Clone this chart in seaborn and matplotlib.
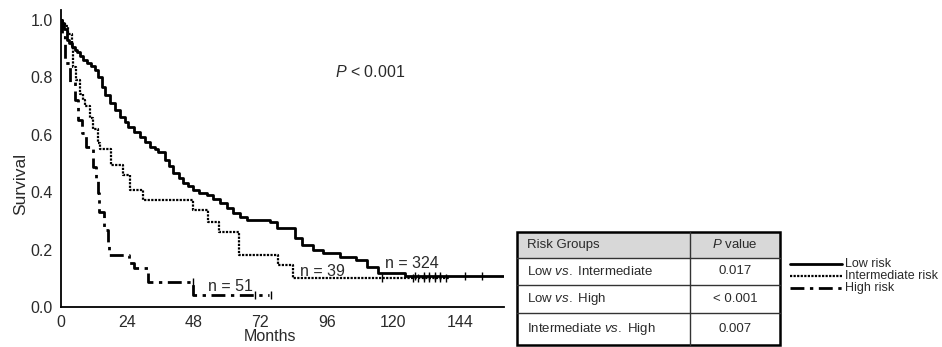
import matplotlib
matplotlib.use("Agg")
import matplotlib.pyplot as plt
from matplotlib.patches import Rectangle
from matplotlib.lines import Line2D
import seaborn as sns
import pandas as pd

sns.set_theme(style="white")
plt.rcParams['font.family'] = ['Liberation Sans', 'DejaVu Sans']
plt.rcParams['mathtext.fontset'] = 'custom'
plt.rcParams['mathtext.it'] = 'Liberation Sans:italic'
plt.rcParams['mathtext.rm'] = 'Liberation Sans'

# ---- data ----
low_months = [0, 0.5, 1, 2, 3, 4, 5, 5.7, 7, 8, 9.5, 11, 12.3, 13.5, 14.7, 16, 17.7, 19.5, 21.3, 23, 24.3, 26.5, 28.5, 30.3, 32.1, 34, 35.1, 37.5, 39, 40.5, 42.5, 44.2, 46, 47.8, 50, 52.6, 55, 57.4, 60, 62.2, 64.5, 67, 75.5, 77.9, 83.3, 84.5, 86.9, 91.1, 94.7, 100.7, 106.7, 110.4, 114.5, 124.2, 160]
low_surv = [1.0, 0.988, 0.97, 0.93, 0.92, 0.905, 0.895, 0.89, 0.875, 0.86, 0.85, 0.84, 0.826, 0.80, 0.768, 0.74, 0.71, 0.685, 0.663, 0.645, 0.628, 0.61, 0.593, 0.575, 0.559, 0.55, 0.541, 0.512, 0.49, 0.466, 0.45, 0.431, 0.42, 0.408, 0.398, 0.39, 0.376, 0.361, 0.345, 0.326, 0.313, 0.303, 0.297, 0.274, 0.274, 0.239, 0.216, 0.199, 0.187, 0.175, 0.164, 0.14, 0.12, 0.108, 0.108]

int_months = [0, 0.5, 1.4, 2.5, 3.9, 4.4, 5.5, 6.9, 8, 8.7, 10.5, 11.7, 13.5, 14, 18.2, 22.4, 24.8, 29.6, 47.6, 53, 57.2, 64.4, 78.4, 83.9, 140]
int_surv = [1.0, 0.99, 0.98, 0.95, 0.91, 0.837, 0.79, 0.744, 0.72, 0.70, 0.66, 0.62, 0.57, 0.55, 0.495, 0.46, 0.408, 0.373, 0.338, 0.297, 0.262, 0.181, 0.146, 0.10, 0.10]

high_months = [0, 0.2, 1.6, 3.3, 5.0, 6.3, 7.5, 9.1, 11.5, 12.7, 13.3, 13.9, 15.7, 16.9, 17.5, 23.5, 24.7, 26.5, 31.3, 47.6, 75.3]
high_surv = [1.0, 0.94, 0.849, 0.785, 0.72, 0.65, 0.605, 0.558, 0.489, 0.442, 0.396, 0.332, 0.268, 0.227, 0.181, 0.181, 0.152, 0.136, 0.088, 0.042, 0.042]

# censored observations (small vertical ticks)
low_cens_m = [128, 131, 133, 135, 137, 146, 152]
low_cens_s = [0.108, 0.108, 0.108, 0.108, 0.108, 0.108, 0.108]
int_cens_m = [116, 127, 129, 131, 133, 135, 137, 139]
int_cens_s = [0.10, 0.10, 0.10, 0.10, 0.10, 0.10, 0.10, 0.10]
high_cens_m = [47.6, 70, 76]
high_cens_s = [0.088, 0.042, 0.042]

n_labels = ["n = 324", "n = 39", "n = 51"]
x_ticks = [0, 24, 48, 72, 96, 120, 144]
y_ticks = [0.0, 0.2, 0.4, 0.6, 0.8, 1.0]

table_header = ["Risk Groups", "P value"]
table_groups = ["Low vs. Intermediate", "Low vs. High", "Intermediate vs. High"]
table_pvalues = ["0.017", "< 0.001", "0.007"]
legend_labels = ["Low risk", "Intermediate risk", "High risk"]

# ---- figure ----
fig = plt.figure(figsize=(9.42, 3.47), dpi=100)
W, H = 942, 347
ax = fig.add_axes([61 / W, (H - 307) / H, (504 - 61) / W, 297 / H])

TXT = "#2a2a2a"
styles = {
    "Low risk": dict(linestyle="-", linewidth=2.0),
    "Intermediate risk": dict(linestyle=(0, (1, 0.6)), linewidth=1.6),
    "High risk": dict(linestyle=(0, (5, 2, 1.2, 2)), linewidth=2.0),
}
series = [("Low risk", low_months, low_surv, low_cens_m, low_cens_s),
          ("Intermediate risk", int_months, int_surv, int_cens_m, int_cens_s),
          ("High risk", high_months, high_surv, high_cens_m, high_cens_s)]
for name, m, s, cm, cs in series:
    df = pd.DataFrame({"Months": m, "Survival": s})
    sns.lineplot(data=df, x="Months", y="Survival", ax=ax, color="black",
                 drawstyle="steps-post", estimator=None, sort=False,
                 **styles[name])
    dc = pd.DataFrame({"Months": cm, "Survival": cs})
    sns.scatterplot(data=dc, x="Months", y="Survival", ax=ax, color="black",
                    marker="|", s=30, linewidth=1.0)

ax.set_xlim(0, 160)
ax.set_ylim(0, 1.035)
ax.set_xticks(x_ticks)
ax.set_yticks(y_ticks)
ax.set_yticklabels([f"{v:.1f}" for v in y_ticks])
ax.tick_params(axis="both", direction="out", length=5, width=1.2, color="black",
               labelsize=11.5, labelcolor=TXT, pad=1)
for side in ["top", "right"]:
    ax.spines[side].set_visible(False)
for side in ["left", "bottom"]:
    ax.spines[side].set_color("black")
    ax.spines[side].set_linewidth(1.3)
ax.set_xlabel("Months", fontsize=11.5, color=TXT)
ax.set_ylabel("Survival", fontsize=12.5, color=TXT)
ax.xaxis.set_label_coords(0.472, -0.075)
ax.yaxis.set_label_coords(-0.075, 0.414)

ax.text(99, 0.80, "$\\it{P}$ < 0.001", fontsize=11.5, color=TXT)
ax.text(117, 0.153, n_labels[0], fontsize=11.5, color=TXT, va="center")
ax.text(86.5, 0.125, n_labels[1], fontsize=11.5, color=TXT, va="center")
ax.text(53, 0.073, n_labels[2], fontsize=11.5, color=TXT, va="center")

# ---- table ----
def px(x, y):
    return x / W, 1 - y / H

tx0, tx1, tcol = 517, 780, 690
rows_y = [232, 258, 285, 313, 345]
x0, y0 = px(tx0, rows_y[1])
x1, y1 = px(tx1, rows_y[0])
fig.patches.append(Rectangle((x0, y0), x1 - x0, y1 - y0, transform=fig.transFigure,
                             facecolor="#d8d8d8", edgecolor="none", zorder=0))
fig.add_artist(Rectangle(px(tx0, rows_y[-1]), (tx1 - tx0) / W, (rows_y[-1] - rows_y[0]) / H,
                         transform=fig.transFigure, facecolor="none",
                         edgecolor="black", linewidth=1.8))
for yy in rows_y[1:-1]:
    fig.add_artist(Line2D([tx0 / W, tx1 / W], [1 - yy / H] * 2, transform=fig.transFigure,
                          color="#333", linewidth=1.0))
fig.add_artist(Line2D([tcol / W] * 2, [1 - rows_y[0] / H, 1 - rows_y[-1] / H],
                      transform=fig.transFigure, color="#333", linewidth=1.0))

fs_t = 9.5
cy = [(rows_y[i] + rows_y[i + 1]) / 2 for i in range(4)]
fig.text(527 / W, 1 - cy[0] / H, table_header[0], fontsize=fs_t, color=TXT, va="center")
fig.text(735 / W, 1 - cy[0] / H, "$\\it{P}$ value", fontsize=fs_t, color=TXT, va="center", ha="center")
for i, (g, p) in enumerate(zip(table_groups, table_pvalues)):
    parts = g.split(" vs. ")
    fig.text(527 / W, 1 - cy[i + 1] / H, parts[0] + " $\\it{vs.}$ " + parts[1],
             fontsize=fs_t, color=TXT, va="center")
    fig.text(735 / W, 1 - cy[i + 1] / H, p, fontsize=fs_t, color=TXT, va="center", ha="center")

# ---- legend ----
leg_y = [264, 276, 288]
for lab, yy in zip(legend_labels, leg_y):
    st = styles[lab]
    fig.add_artist(Line2D([790 / W, 842 / W], [1 - yy / H] * 2, transform=fig.transFigure,
                          color="black", linestyle=st["linestyle"], linewidth=st["linewidth"]))
    fig.text(845 / W, 1 - yy / H, lab, fontsize=9, color=TXT, va="center")

fig.savefig("out.png", dpi=100)
